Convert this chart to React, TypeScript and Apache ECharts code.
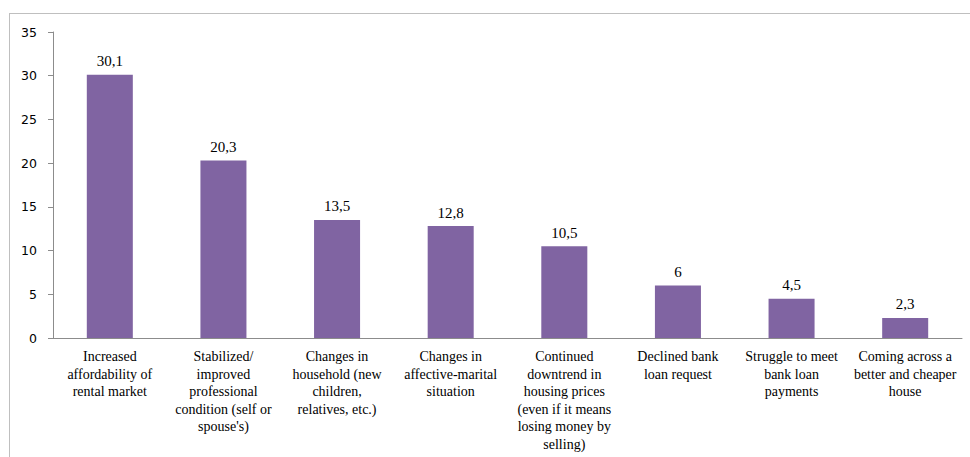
import React, { useEffect, useRef } from "react";
import * as echarts from "echarts";

const categories: string[] = [
  "Increased\naffordability of\nrental market",
  "Stabilized/\nimproved\nprofessional\ncondition (self or\nspouse's)",
  "Changes in\nhousehold (new\nchildren,\nrelatives, etc.)",
  "Changes in\naffective-marital\nsituation",
  "Continued\ndowntrend in\nhousing prices\n(even if it means\nlosing money by\nselling)",
  "Declined bank\nloan request",
  "Struggle to meet\nbank loan\npayments",
  "Coming across a\nbetter and cheaper\nhouse",
];
const values: number[] = [30.1, 20.3, 13.5, 12.8, 10.5, 6, 4.5, 2.3];
const yTicks = { min: 0, max: 35, interval: 5 };

export default function App() {
  const ref = useRef<HTMLDivElement>(null);
  useEffect(() => {
    if (!ref.current) return;
    const chart = echarts.init(ref.current, null, { renderer: "svg" });
    chart.setOption({
      animation: false,
      grid: { left: 53, right: 8, top: 32, bottom: 119 },
      xAxis: {
        type: "category",
        data: categories,
        axisLine: { lineStyle: { color: "#8c8c8c" } },
        axisTick: { length: 5, lineStyle: { color: "#8c8c8c" } },
        axisLabel: {
          interval: 0,
          margin: 10,
          fontFamily: "Liberation Serif",
          fontSize: 14,
          lineHeight: 17.5,
          color: "#000",
        },
      },
      yAxis: {
        type: "value",
        min: yTicks.min,
        max: yTicks.max,
        interval: yTicks.interval,
        splitLine: { show: false },
        axisLine: { show: true, lineStyle: { color: "#8c8c8c" } },
        axisTick: { show: true, length: 5, lineStyle: { color: "#8c8c8c" } },
        axisLabel: {
          margin: 16,
          fontFamily: "DejaVu Sans",
          fontSize: 12.5,
          color: "#000",
        },
      },
      series: [
        {
          type: "bar",
          data: values,
          barWidth: "40.5%",
          itemStyle: { color: "#8064A2" },
          label: {
            show: true,
            position: "top",
            distance: 6,
            fontFamily: "Liberation Serif",
            fontSize: 15,
            color: "#000",
            formatter: (p: any) => String(p.value).replace(".", ","),
          },
        },
      ],
    });
    return () => chart.dispose();
  }, []);
  return (
    <div style={{ position: "absolute", left: 0, top: 0, width: 970, height: 457, overflow: "hidden", background: "#fff" }}>
      <div
        style={{
          position: "absolute",
          left: 9,
          top: 13,
          width: 1000,
          height: 500,
          borderTop: "1px solid #bfbfbf",
          borderLeft: "1px solid #bfbfbf",
        }}
      />
      <div ref={ref} style={{ position: "absolute", left: 0, top: 0, width: 970, height: 457 }} />
    </div>
  );
}
